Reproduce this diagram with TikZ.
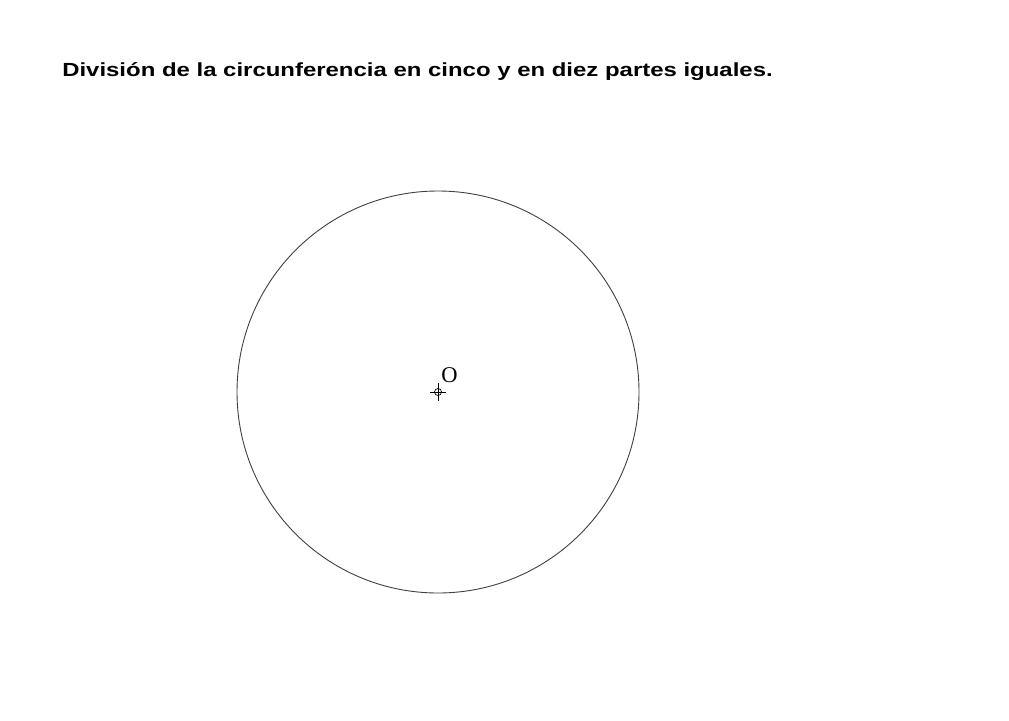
\documentclass[tikz,border=0pt]{standalone}
\usepackage{fontspec}
\setmainfont{Liberation Serif}
\setsansfont{Liberation Sans}
\usetikzlibrary{calc}
\begin{document}
\begin{tikzpicture}[x=1pt,y=-1pt,
  thinline/.style={draw=black!75, line width=0.9pt},
  marker/.style={draw=black, line width=0.7pt}]
\useasboundingbox (0,0) rectangle (1009,720);
\fill[white] (0,0) rectangle (1009,720);
\node[anchor=base west, inner sep=0pt, xscale=1.26, font=\sffamily\bfseries\fontsize{19}{21}\selectfont] (title) at (62,76) {División de la circunferencia en cinco y en diez partes iguales.};
\coordinate (O) at (438,392);
\draw[thinline] (O) circle (201);
\draw[marker] (O) circle (3.5);
\draw[marker] ($(O)+(-8,0)$) -- ($(O)+(8,0)$);
\draw[marker] ($(O)+(0,-9)$) -- ($(O)+(0,9)$);
\node[font=\fontsize{22.5}{24}\selectfont, inner sep=0pt, anchor=base] (Olabel) at (449.5,382) {O};
\end{tikzpicture}
\end{document}
